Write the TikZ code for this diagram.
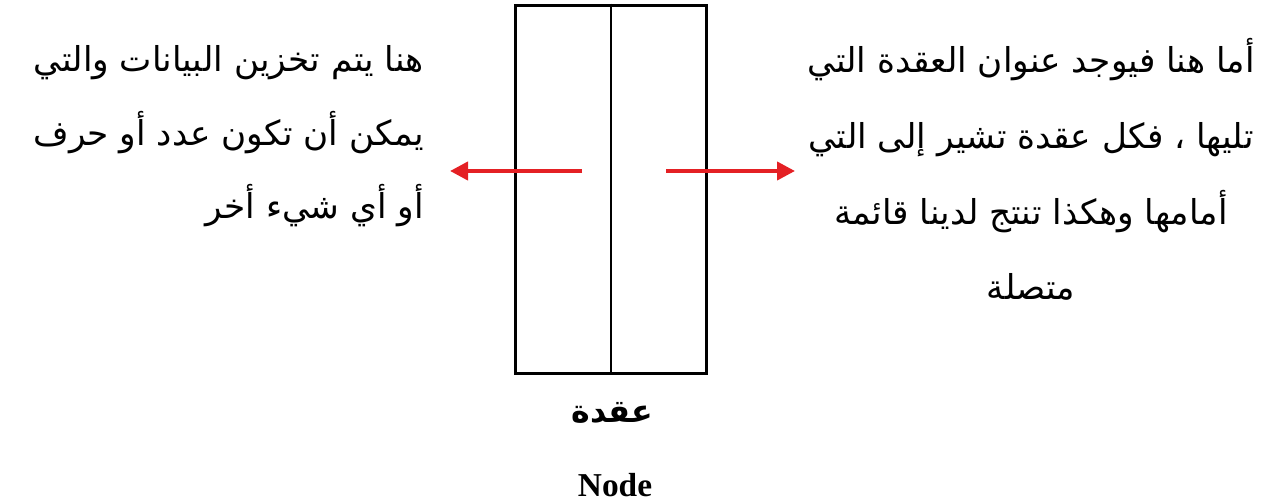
\documentclass[tikz,border=0pt]{standalone}
\usepackage{fontspec}
\setmainfont{Liberation Serif}
\newfontfamily\arabicfont[Script=Arabic]{DejaVu Sans}
\TeXXeTstate=1
\usetikzlibrary{arrows.meta}
\definecolor{linkRed}{RGB}{228, 32, 36}

\begin{document}
\begin{tikzpicture}[x=0.02cm, y=-0.02cm,
    cell/.style={draw, line width=1.7pt, minimum width=3.84cm, minimum height=7.38cm, inner sep=0pt},
    pointer/.style={linkRed, line width=2.3pt, -{Triangle[length=0.36cm, width=0.36cm]}},
    note/.style={inner sep=0pt, font=\arabicfont\fontsize{19.5}{42}\selectfont}]
  \useasboundingbox (0,0) rectangle (1264,503);

  % the node: data part and pointer part
  \node[cell] (nodeBox) at (611,189.5) {};
  \draw[line width=1.1pt] (nodeBox.north) -- (nodeBox.south);

  \coordinate (dataStart) at (582,171);
  \coordinate (dataTip) at (450,171);
  \coordinate (nextStart) at (666,171);
  \coordinate (nextTip) at (795,171);
  \draw[pointer] (dataStart) -- (dataTip);
  \draw[pointer] (nextStart) -- (nextTip);

  \node[note, anchor=north east, align=right] (dataText) at (424,45) {%
    \beginR هنا يتم تخزين البيانات والتي\endR\\
    \beginR يمكن أن تكون عدد أو حرف\endR\\
    \beginR أو أي شيء أخر\endR};
  \node[note, anchor=north, align=center, font=\arabicfont\fontsize{19.5}{43.1}\selectfont] (nextText) at (1031,38) {%
    \beginR أما هنا فيوجد عنوان العقدة التي\endR\\
    \beginR تليها ، فكل عقدة تشير إلى التي\endR\\
    \beginR أمامها وهكذا تنتج لدينا قائمة\endR\\
    \beginR متصلة\endR};

  \node[font=\arabicfont\bfseries\fontsize{18}{20}\selectfont] (nameAr) at (612,413) {\beginR عقدة\endR};
  \node[font=\bfseries\fontsize{19}{21}\selectfont] (nameEn) at (615,485) {Node};
\end{tikzpicture}
\end{document}
